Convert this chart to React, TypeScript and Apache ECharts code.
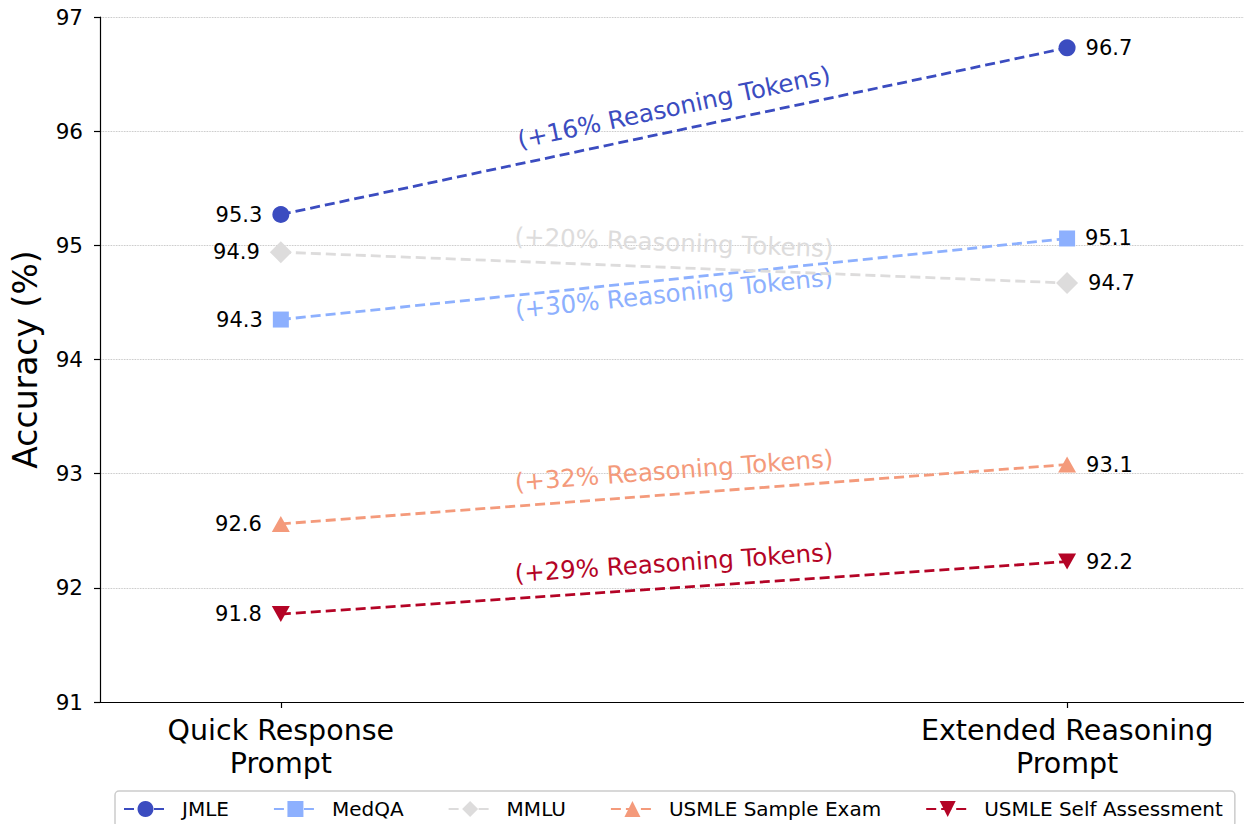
import React, { useEffect, useRef } from 'react';
import * as echarts from 'echarts';

// ---- data ----
const categories = ['Quick Response\nPrompt', 'Extended Reasoning\nPrompt'];
const seriesNames = ['JMLE', 'MedQA', 'MMLU', 'USMLE Sample Exam', 'USMLE Self Assessment'];
const jmle = [95.27, 96.73];
const medqa = [94.35, 95.06];
const mmlu = [94.94, 94.67];
const usmleSample = [92.56, 93.08];
const usmleSelf = [91.77, 92.23];
const tokenGains = ['+16%', '+30%', '+20%', '+32%', '+29%'];
const yMin = 91;
const yMax = 97;
const yStep = 1;

// ---- styles ----
const seriesValues = [jmle, medqa, mmlu, usmleSample, usmleSelf];
const colors = ['#3b4cc0', '#8db0fe', '#dddcdc', '#f49a7b', '#b40426'];
const symbols = ['circle', 'rect', 'diamond', 'triangle', 'path://M0,0L10,0L5,9Z'];
const symbolSizes: any[] = [17, 16, 22, [18, 16], [18, 16]];
const annotOffsets = [0.21, -0.125, 0.22, 0.21, 0.22];
const FONT = 'DejaVu Sans';

function buildOption(angles: number[]) {
  const lineSeries = seriesNames.map((name, si) => ({
    type: 'line',
    name,
    data: seriesValues[si].map((v, i) => ({
      value: [i, v],
      label: { position: i === 0 ? 'left' : 'right' },
    })),
    symbol: symbols[si],
    symbolSize: symbolSizes[si],
    itemStyle: { color: colors[si] },
    lineStyle: { color: colors[si], width: 2.8, type: [10, 5] },
    label: {
      show: true,
      formatter: (p: any) => p.value[1].toFixed(1),
      fontSize: 21,
      color: '#000',
      distance: 10,
      fontFamily: FONT,
    },
    emphasis: { disabled: true },
    z: 3,
  }));
  const annotSeries = seriesNames.map((name, si) => {
    const d = seriesValues[si];
    return {
      type: 'scatter',
      name: 'annot-' + name,
      data: [[0.5, (d[0] + d[1]) / 2 + annotOffsets[si]]],
      symbol: 'circle',
      symbolSize: 1,
      itemStyle: { color: 'rgba(0,0,0,0)', opacity: 1 },
      silent: true,
      label: {
        show: true,
        position: 'inside',
        rotate: angles[si],
        formatter: '(' + tokenGains[si] + ' Reasoning Tokens)',
        fontSize: 24.5,
        color: colors[si],
        opacity: 1,
        fontFamily: FONT,
      },
      labelLayout: { hideOverlap: false },
      emphasis: { disabled: true },
      z: 2,
    };
  });
  return {
    animation: false,
    backgroundColor: '#fff',
    textStyle: { fontFamily: FONT },
    grid: { left: 100, top: 17, right: 0, bottom: 122, containLabel: false },
    xAxis: {
      type: 'value',
      min: -0.23,
      max: 1.225,
      axisLine: { show: true, onZero: false, lineStyle: { color: '#000', width: 1.2 } },
      axisTick: { show: true, customValues: [0, 1], length: 6, lineStyle: { color: '#000', width: 1.2 } },
      axisLabel: {
        customValues: [0, 1],
        formatter: (v: number) => categories[Math.round(v)] ?? '',
        fontSize: 28.5,
        lineHeight: 33,
        color: '#000',
        margin: 12,
        fontFamily: FONT,
      },
      splitLine: { show: false },
    },
    yAxis: {
      type: 'value',
      min: yMin,
      max: yMax,
      interval: yStep,
      name: 'Accuracy (%)',
      nameLocation: 'middle',
      nameGap: 58,
      nameTextStyle: { fontSize: 33, color: '#000', fontFamily: FONT },
      axisLine: { show: true, onZero: false, lineStyle: { color: '#000', width: 1.2 } },
      axisTick: { show: true, length: 6, lineStyle: { color: '#000', width: 1.2 } },
      axisLabel: { fontSize: 21.5, color: '#000', margin: 17, fontFamily: FONT },
      splitLine: { show: true, lineStyle: { color: '#b0b0b0', type: 'dotted', width: 0.8 } },
    },
    legend: {
      data: seriesNames,
      left: 115,
      top: 791,
      orient: 'horizontal',
      itemWidth: 43,
      itemHeight: 20,
      itemGap: 44,
      padding: [8, 12, 8, 8],
      borderColor: '#cccccc',
      borderWidth: 1.5,
      borderRadius: 4,
      backgroundColor: '#fff',
      textStyle: { fontSize: 20, color: '#000', fontFamily: FONT, padding: [0, 0, 0, 10] },
    },
    series: [...annotSeries, ...lineSeries],
  };
}

export default function App() {
  const ref = useRef<HTMLDivElement>(null);
  useEffect(() => {
    const chart = echarts.init(ref.current!, null, { renderer: 'svg' });
    chart.setOption(buildOption(seriesNames.map(() => 0)));
    const angles = seriesValues.map((d) => {
      const p0 = chart.convertToPixel({ gridIndex: 0 }, [0, d[0]]) as number[];
      const p1 = chart.convertToPixel({ gridIndex: 0 }, [1, d[1]]) as number[];
      return (Math.atan2(p0[1] - p1[1], p1[0] - p0[0]) * 180) / Math.PI;
    });
    chart.setOption(buildOption(angles), true);
    return () => chart.dispose();
  }, []);
  return (
    <div
      ref={ref}
      style={{ position: 'fixed', left: 0, top: 0, width: 1244, height: 824 }}
    />
  );
}
